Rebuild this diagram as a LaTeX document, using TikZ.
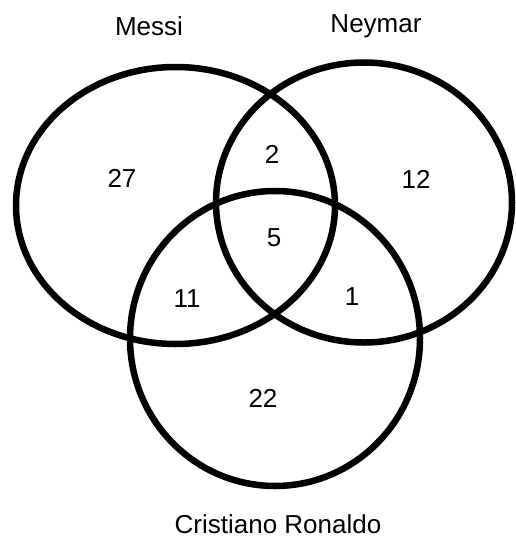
\documentclass[tikz,border=0pt]{standalone}
\usepackage{fontspec}
\setmainfont{Liberation Sans}
\begin{document}
\begin{tikzpicture}[x=1pt,y=-1pt,
  setring/.style={draw=black,line width=6.5pt},
  lbl/.style={font=\fontsize{26}{31}\selectfont,inner sep=0pt,anchor=center}]
\useasboundingbox[fill=white] (0,0) rectangle (516,538);
\draw[setring] (175.5,205.5) ellipse [x radius=159.5, y radius=138.5];
\draw[setring] (364,202.5) ellipse [x radius=148, y radius=140];
\draw[setring] (275,338.5) ellipse [x radius=145, y radius=147.5];
\node[lbl] (messi) at (149,26) {\vphantom{M}Messi};
\node[lbl] (neymar) at (376,23.5) {\vphantom{N}N\smash{eymar}};
\node[lbl] (cr) at (278,524) {\vphantom{C}Cristiano Ronaldo};
\node[lbl] (n27) at (122,178) {27};
\node[lbl] (n2) at (272,154) {2};
\node[lbl] (n12) at (416,179) {12};
\node[lbl] (n5) at (274,238) {5};
\node[lbl] (n11) at (187,298.5) {11};
\node[lbl] (n1) at (352,297) {1};
\node[lbl] (n22) at (263,398) {22};
\end{tikzpicture}
\end{document}
